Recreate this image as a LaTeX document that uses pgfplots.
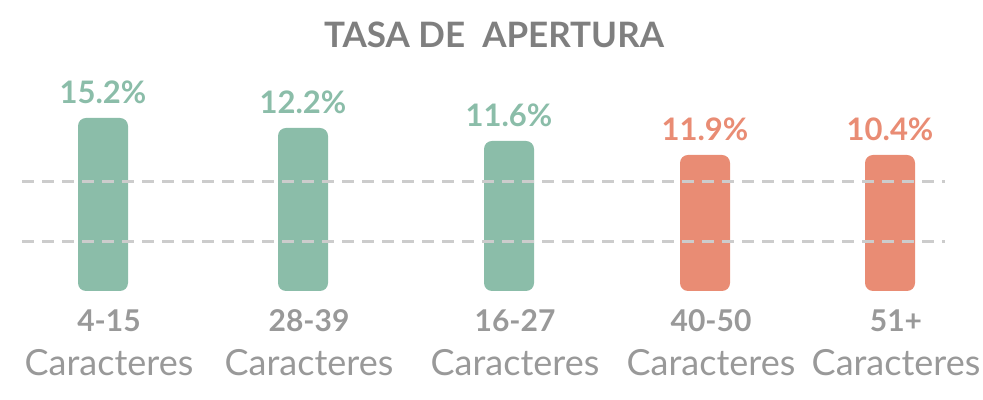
\documentclass[border=0pt]{standalone}
\usepackage{pgfplots}
\pgfplotsset{compat=1.18}
\usepackage{fontspec}
\setmainfont{Lato}
\definecolor{cgreen}{HTML}{8BBDA9}
\definecolor{csalmon}{HTML}{E98C74}
\definecolor{ctitle}{HTML}{7F7F7F}
\definecolor{clabel}{HTML}{999999}
\definecolor{cgrid}{HTML}{CCCCCC}
\begin{document}
\begin{tikzpicture}
\begin{axis}[
  name=ax,
  scale only axis, width=491.5pt, height=200pt,
  xmin=0, xmax=983, ymin=-109, ymax=291,
  axis line style={draw=none},
  major tick length=0pt,
  ytick=\empty,
  xtick={103,303,509,705,890},
  xticklabels={
    {\bfseries 4-15\\\fontsize{18}{22}\selectfont Caracteres},
    {\bfseries 28-39\\\fontsize{18}{22}\selectfont Caracteres},
    {\bfseries 16-27\\\fontsize{18}{22}\selectfont Caracteres},
    {\bfseries 40-50\\\fontsize{18}{22}\selectfont Caracteres},
    {\bfseries 51+\\\fontsize{18}{22}\selectfont Caracteres}},
  xticklabel style={font=\fontsize{15}{22}\selectfont, text=clabel, align=center, anchor=north, yshift=48.5pt, xshift=3pt},
  clip=false,
  ybar, bar width=25pt, bar shift=0pt,
]
\addplot[fill=cgreen, draw=none, rounded corners=4pt,
  nodes near coords, point meta=explicit symbolic,
  every node near coord/.append style={font=\fontsize{15.5}{18}\selectfont\bfseries, text=cgreen, anchor=base, yshift=7pt}]
  coordinates {(103,173) [15.2\%] (303,163) [12.2\%] (509,150) [11.6\%]};
\addplot[fill=csalmon, draw=none, rounded corners=4pt,
  nodes near coords, point meta=explicit symbolic,
  every node near coord/.append style={font=\fontsize{15.5}{18}\selectfont\bfseries, text=csalmon, anchor=base, yshift=7pt}]
  coordinates {(705,136) [11.9\%] (890,136) [10.4\%]};
\addplot[sharp plot, draw=cgrid, line width=1.5pt, dash pattern=on 6pt off 4pt, forget plot]
  coordinates {(22,109) (945,109)};
\addplot[sharp plot, draw=cgrid, line width=1.5pt, dash pattern=on 6pt off 4pt, forget plot]
  coordinates {(22,49) (945,49)};
\node[font=\fontsize{17.5}{20}\selectfont\bfseries, text=ctitle] at (axis cs:494,256) {TASA DE\ \ APERTURA};
\end{axis}
\pgfresetboundingbox
\path (ax.south west) rectangle (ax.north east);
\end{tikzpicture}
\end{document}
